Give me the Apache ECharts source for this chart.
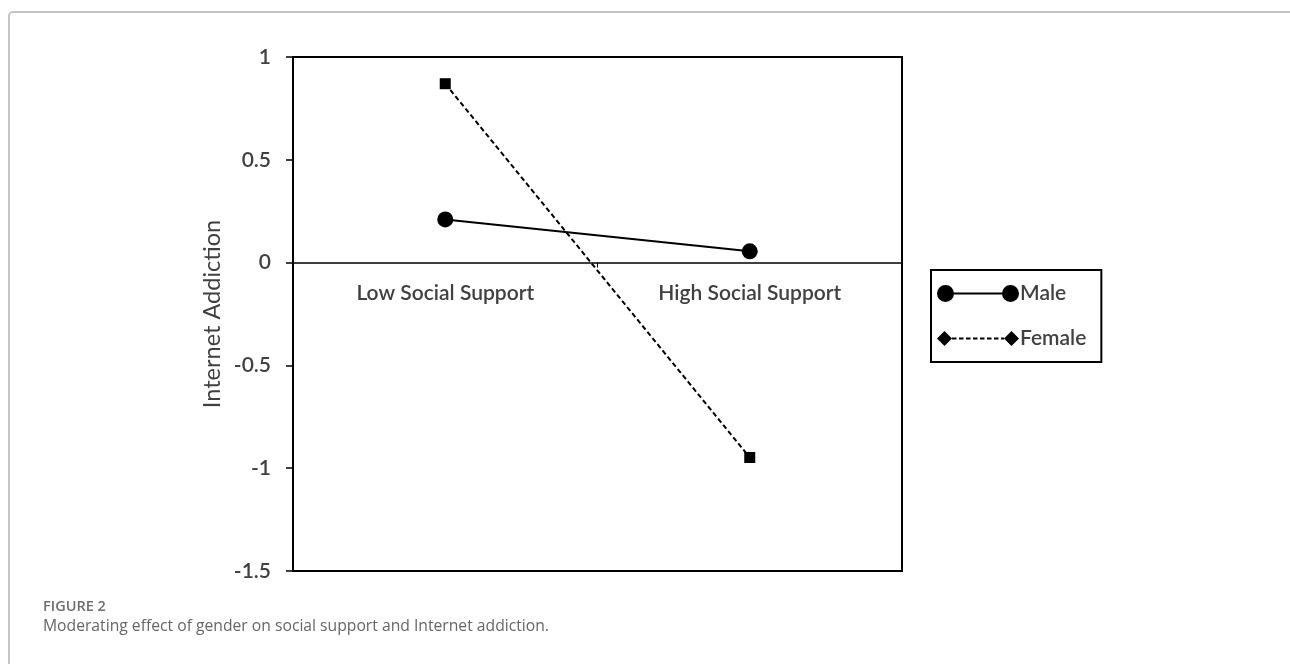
<!DOCTYPE html>
<html style="height: 100%">
<head>
  <meta charset="utf-8">
  <script src="https://cdn.jsdelivr.net/npm/echarts@6/dist/echarts.min.js"></script>
</head>
<body style="height: 100%; margin: 0; background: #fff">
  <div id="container" style="width: 1290px; height: 664px"></div>
  <script type="text/javascript">
    // data
    var categories = ['Low Social Support', 'High Social Support'];
    var maleValues = [0.21, 0.055];
    var femaleValues = [0.87, -0.948];
    var yTicks = { min: -1.5, max: 1, step: 0.5 };

    var labelFont = 'Lato, "Open Sans", sans-serif';
    var textGray = '#404040';

    // legend icons: marker - line - marker (82 x 17 box)
    var maleIcon = 'path://M0,8.5A8.5,8.5 0 1,1 17,8.5A8.5,8.5 0 1,1 0,8.5Z M8,7.5H74V9.5H8Z ' +
      'M65,8.5A8.5,8.5 0 1,1 82,8.5A8.5,8.5 0 1,1 65,8.5Z';
    var femaleIcon = 'path://M7.5,1L15,8.5L7.5,16L0,8.5Z M15,7.6H19.5V9.4H15Z M22,7.6H26.5V9.4H22Z M29,7.6H33.5V9.4H29Z ' +
      'M36,7.6H40.5V9.4H36Z M43,7.6H47.5V9.4H43Z M50,7.6H54.5V9.4H50Z M57,7.6H61.5V9.4H57Z M64,7.6H67V9.4H64Z ' +
      'M74.5,1L82,8.5L74.5,16L67,8.5Z';

    var dom = document.getElementById('container');
    var myChart = echarts.init(dom, null, { renderer: 'canvas' });

    var option = {
      animation: false,
      backgroundColor: '#fff',
      graphic: [{
        type: 'rect',
        shape: { x: 9, y: 12, width: 1300, height: 700, r: 4 },
        style: { fill: 'none', stroke: '#c4c4c4', lineWidth: 2 },
        silent: true
      }],
      title: [{
        text: 'FIGURE 2',
        left: 38,
        top: 594,
        padding: 5,
        textStyle: { fontFamily: '"Open Sans", sans-serif', fontSize: 14.5, fontWeight: 600, color: '#6e6e6e' }
      }, {
        text: 'Moderating effect of gender on social support and Internet addiction.',
        left: 38,
        top: 614,
        padding: 5,
        textStyle: { fontFamily: '"Open Sans", sans-serif', fontSize: 15.7, fontWeight: 'normal', color: '#666' }
      }],
      legend: {
        orient: 'vertical',
        left: 931,
        top: 270,
        padding: [13, 15, 13, 6],
        itemGap: 24,
        itemWidth: 82,
        itemHeight: 17,
        borderColor: '#000',
        borderWidth: 2,
        textStyle: { fontFamily: labelFont, fontSize: 21, fontWeight: 600, color: textGray, lineHeight: 17, padding: [0, 0, 0, -4] },
        data: [
          { name: 'Male', icon: maleIcon },
          { name: 'Female', icon: femaleIcon }
        ]
      },
      grid: {
        left: 293,
        top: 57,
        width: 609,
        height: 514,
        show: true,
        borderColor: '#000',
        borderWidth: 2,
        backgroundColor: 'transparent'
      },
      xAxis: {
        type: 'category',
        data: categories,
        position: 'bottom',
        offset: -308.4,
        axisLine: { onZero: false, lineStyle: { color: '#000', width: 1.5 } },
        axisTick: { show: true, length: 5, lineStyle: { color: '#000' } },
        axisLabel: { margin: 20, fontFamily: labelFont, fontSize: 21, fontWeight: 600, color: textGray }
      },
      yAxis: {
        type: 'value',
        min: yTicks.min,
        max: yTicks.max,
        interval: yTicks.step,
        name: 'Internet Addiction',
        nameLocation: 'middle',
        nameGap: 69,
        nameTextStyle: { fontFamily: labelFont, fontSize: 23.5, color: textGray },
        splitLine: { show: false },
        axisLine: { show: true, lineStyle: { color: '#000', width: 2 } },
        axisTick: { show: true, length: 7, lineStyle: { color: '#000', width: 1.5 } },
        axisLabel: { margin: 22, fontFamily: labelFont, fontSize: 21, fontWeight: 600, color: textGray }
      },
      series: [{
        name: 'Male',
        type: 'line',
        data: maleValues,
        symbol: 'circle',
        symbolSize: 16,
        color: '#000',
        lineStyle: { color: '#000', width: 2 },
        itemStyle: { color: '#000' }
      }, {
        name: 'Female',
        type: 'line',
        data: femaleValues,
        symbol: 'rect',
        symbolSize: 11,
        color: '#000',
        lineStyle: { color: '#000', width: 2, type: [5, 3] },
        itemStyle: { color: '#000' }
      }]
    };
    myChart.setOption(option);
  </script>
</body>
</html>
